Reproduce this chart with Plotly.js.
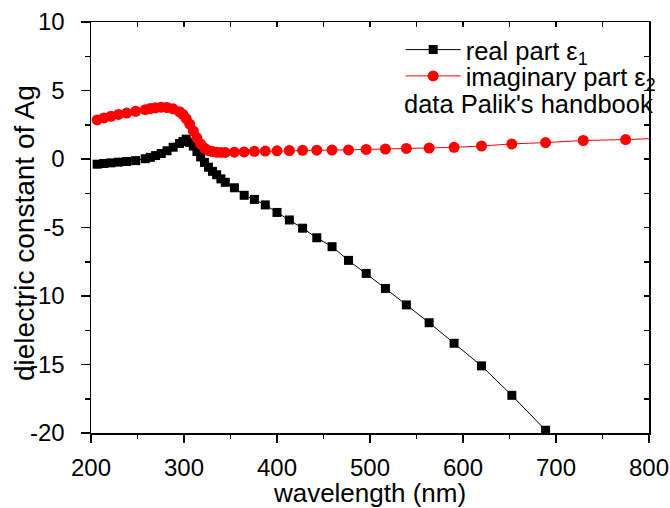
<!DOCTYPE html>
<html>
<head>
<meta charset="utf-8">
<script src="https://cdn.plot.ly/plotly-3.0.1.min.js"></script>
<style>html,body{margin:0;padding:0;background:#fff;}#chart{width:670px;height:508px;}</style>
</head>
<body>
<div id="chart"></div>
<script>
// wavelength (nm) of the data points
const wavelength = [206.6, 213.8, 221.4, 229.6, 238.4, 248.0, 258.3, 263.8, 269.5, 275.5,
  281.8, 288.3, 295.2, 298.8, 302.4, 306.1, 310.0, 313.9, 317.9, 322.0,
  326.3, 330.6, 335.1, 339.7, 344.4, 354.2, 364.7, 375.7, 387.4, 400.0,
  413.3, 427.5, 442.8, 459.2, 476.9, 495.9, 516.6, 539.1, 563.6, 590.4,
  619.9, 652.5, 688.8, 729.3, 774.9, 826.6];
// real part eps1 (black squares)
const eps1 = [-0.38, -0.33, -0.28, -0.23, -0.18, -0.12, 0.02, 0.12, 0.25, 0.40,
  0.60, 0.86, 1.13, 1.28, 1.45, 1.20, 0.95, 0.55, 0.15, -0.25,
  -0.60, -0.90, -1.15, -1.45, -1.70, -2.10, -2.65, -2.95, -3.35, -3.90,
  -4.45, -5.05, -5.75, -6.40, -7.40, -8.35, -9.45, -10.65, -11.95, -13.45,
  -15.10, -17.25, -19.80, null, null, null];
// imaginary part eps2 (red circles)
const eps2 = [2.85, 3.00, 3.12, 3.25, 3.35, 3.48, 3.60, 3.68, 3.74, 3.78,
  3.76, 3.66, 3.45, 3.25, 2.95, 2.55, 2.05, 1.55, 1.10, 0.80,
  0.62, 0.54, 0.50, 0.48, 0.48, 0.50, 0.52, 0.56, 0.58, 0.60,
  0.62, 0.63, 0.64, 0.65, 0.66, 0.70, 0.73, 0.77, 0.80, 0.85,
  0.95, 1.10, 1.20, 1.35, 1.42, 1.55];
const seriesNames = ['real part ε<sub>1</sub>', 'imaginary part ε<sub>2</sub>'];
const noteText = "data Palik's handbook";
const xTickVals = [200, 300, 400, 500, 600, 700, 800];
const xTickText = ['200', '300', '400', '500', '600', '700', '800'];
const yTickVals = [-20, -15, -10, -5, 0, 5, 10];
const yTickText = ['-20', '-15', '-10', '-5', '0', '5', '10'];
const xTitle = 'wavelength (nm)';
const yTitle = 'dielectric constant of Ag';

const FONT = 'Liberation Sans, Arial, sans-serif';
const CLEAR = 'rgba(0,0,0,0)';

const traces = [
  {x: wavelength, y: eps1, type: 'scatter', mode: 'lines+markers', name: seriesNames[0], legend: 'legend',
   line: {color: '#000000', width: 1}, marker: {symbol: 'square', size: 9, color: '#000000'}},
  {x: wavelength, y: eps2, type: 'scatter', mode: 'lines+markers', name: seriesNames[1], legend: 'legend2',
   line: {color: '#ff0000', width: 1}, marker: {symbol: 'circle', size: 11, color: '#ff0000'}},
  // invisible carriers so that the tick-only axes get drawn
  {x: wavelength, y: eps2, type: 'scatter', mode: 'none', xaxis: 'x2', yaxis: 'y2', showlegend: false, hoverinfo: 'skip'},
  {x: wavelength, y: eps2, type: 'scatter', mode: 'none', xaxis: 'x3', yaxis: 'y3', showlegend: false, hoverinfo: 'skip'}
];

const legendBase = {x: 0.555, xanchor: 'left', yanchor: 'top', bgcolor: CLEAR,
  font: {family: FONT, size: 25.5, color: '#000000'}, itemwidth: 55};

// axis that only carries the visible tick marks
function tickAxis(over, side, range, major, minor, inward) {
  return {overlaying: over, side: side, anchor: over === 'x' ? 'y' : 'x', range: range,
    tickmode: 'linear', tick0: range[0], dtick: major,
    ticks: inward ? 'inside' : 'outside', ticklen: inward ? 5 : 9, tickwidth: 1.5, tickcolor: '#000',
    minor: minor ? {tickmode: 'linear', tick0: range[0], dtick: minor, ticks: inward ? 'inside' : 'outside',
      ticklen: 5, tickwidth: 1.5, tickcolor: '#000', showgrid: false} : undefined,
    showticklabels: false, showline: false, showgrid: false, zeroline: false};
}

const layout = {
  width: 670, height: 508,
  margin: {l: 91, r: 21, t: 22, b: 75, autoexpand: false},
  paper_bgcolor: '#ffffff', plot_bgcolor: '#ffffff',
  font: {family: FONT, size: 24, color: '#000000'},
  showlegend: true,
  legend: Object.assign({}, legendBase, {y: 0.989}),
  legend2: Object.assign({}, legendBase, {y: 0.925}),
  // label-carrying axes (transparent ticks set the label distance)
  xaxis: {range: [200, 800], tickmode: 'array', tickvals: xTickVals, ticktext: xTickText,
    ticks: 'outside', ticklen: 13, tickcolor: CLEAR,
    showline: true, linewidth: 1.5, linecolor: '#000', mirror: true,
    showgrid: false, zeroline: false,
    title: {text: xTitle, font: {family: FONT, size: 26}, standoff: 11}},
  yaxis: {range: [-20, 10], tickmode: 'array', tickvals: yTickVals, ticktext: yTickText,
    ticks: 'outside', ticklen: 20, tickcolor: CLEAR,
    showline: true, linewidth: 1.5, linecolor: '#000', mirror: true,
    showgrid: false, zeroline: false},
  // visible tick marks
  xaxis3: tickAxis('x', 'bottom', [200, 800], 100, 50, false),
  yaxis3: tickAxis('y', 'left', [-20, 10], 5, 2.5, false),
  xaxis2: tickAxis('x', 'top', [200, 800], 50, null, true),
  yaxis2: tickAxis('y', 'right', [-20, 10], 2.5, null, true),
  annotations: [
    {text: noteText, xref: 'paper', yref: 'paper', x: 0.558, y: 0.80, xanchor: 'left', yanchor: 'middle',
     showarrow: false, font: {family: FONT, size: 25.5, color: '#000'}},
    {text: yTitle, xref: 'paper', yref: 'paper', x: -0.118, y: 0.487, xanchor: 'center', yanchor: 'middle',
     textangle: -90, showarrow: false, font: {family: FONT, size: 28, color: '#000'}}
  ]
};

Plotly.newPlot('chart', traces, layout, {staticPlot: true, displayModeBar: false});
</script>
</body>
</html>
